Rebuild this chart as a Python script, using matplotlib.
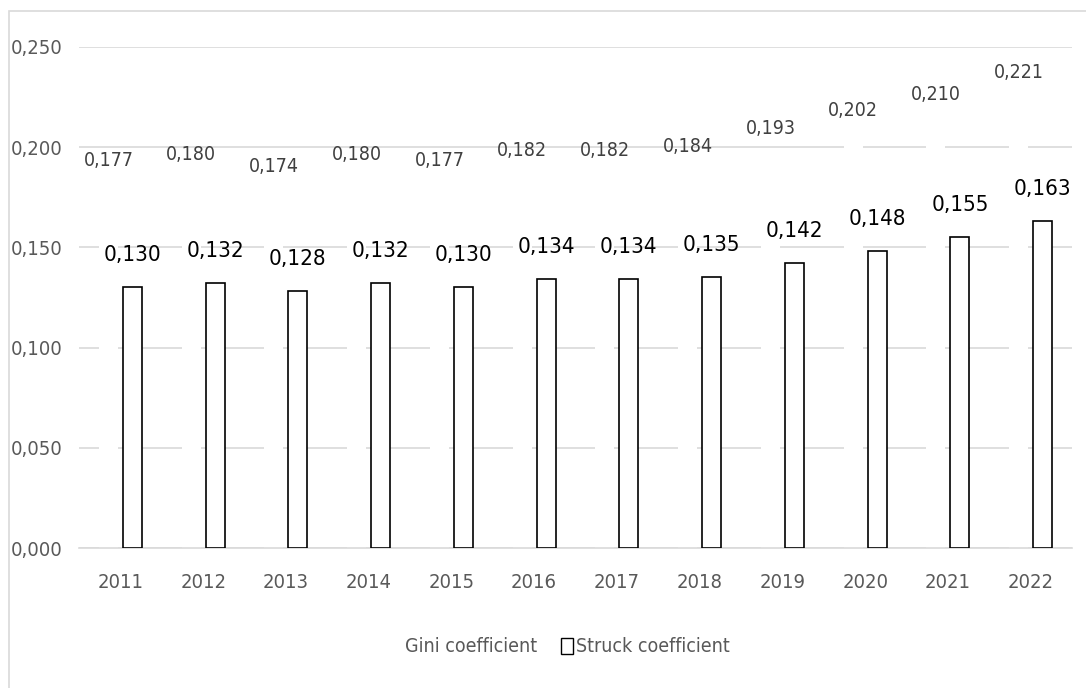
import matplotlib.pyplot as plt
from matplotlib.patches import Patch, Rectangle

years = ["2011", "2012", "2013", "2014", "2015", "2016",
         "2017", "2018", "2019", "2020", "2021", "2022"]
gini = [0.177, 0.180, 0.174, 0.180, 0.177, 0.182,
        0.182, 0.184, 0.193, 0.202, 0.210, 0.221]
struck = [0.130, 0.132, 0.128, 0.132, 0.130, 0.134,
          0.134, 0.135, 0.142, 0.148, 0.155, 0.163]
yticks = [0.0, 0.05, 0.10, 0.15, 0.20, 0.25]

plt.rcParams["font.family"] = ["DejaVu Sans"]
plt.rcParams["font.stretch"] = "condensed"

fig = plt.figure(figsize=(10.86, 6.88), dpi=100)
ax = fig.add_axes([79 / 1086, 1 - 548 / 688, 993 / 1086, 501 / 688])

# thin frame around the chart area
fig.patches.append(Rectangle((9 / 1086, -0.1), 1.2, 1 - 11 / 688 + 0.1,
                             transform=fig.transFigure, fill=False,
                             edgecolor="#d9d9d9", linewidth=1.2))

x = list(range(len(years)))
w = 0.23
off = 0.145
xg = [i - off for i in x]
xs = [i + off for i in x]

# Gini bars are white without outline, only their labels show
ax.bar(xg, gini, width=w, color="white", edgecolor="none", zorder=2)
ax.bar(xs, struck, width=w, color="white", edgecolor="black", linewidth=1.2, zorder=3)

for xi, v in zip(xg, gini):
    ax.annotate(f"{v:.3f}".replace(".", ","), (xi, v), xytext=(0, 23.5),
                textcoords="offset points", ha="center", va="center",
                fontsize=14, color="#404040")
for xi, v in zip(xs, struck):
    ax.annotate(f"{v:.3f}".replace(".", ","), (xi, v), xytext=(0, 23.5),
                textcoords="offset points", ha="center", va="center",
                fontsize=16, color="black")

ax.set_xlim(-0.5, len(years) - 0.5)
ax.set_ylim(0, 0.25)
ax.set_yticks(yticks)
ax.set_yticklabels([f"{t:.3f}".replace(".", ",") for t in yticks])
ax.set_xticks(x)
ax.set_xticklabels(years)
ax.tick_params(axis="both", length=0, labelsize=14.5, labelcolor="#595959")
ax.tick_params(axis="y", pad=12)
ax.tick_params(axis="x", pad=18)
ax.yaxis.grid(True, color="#d9d9d9", linewidth=1.2, zorder=0)
ax.set_axisbelow(True)
for s in ["top", "right", "left"]:
    ax.spines[s].set_visible(False)
ax.spines["bottom"].set_color("#d9d9d9")
ax.spines["bottom"].set_linewidth(1.2)

handles = [Patch(facecolor="white", edgecolor="none", label="Gini coefficient"),
           Patch(facecolor="white", edgecolor="black", linewidth=1, label="Struck coefficient")]
leg = fig.legend(handles=handles, loc="center", bbox_to_anchor=(560 / 1086, 1 - 647 / 688),
                 ncol=2, frameon=False, fontsize=14, handlelength=0.65, handleheight=0.9,
                 handletextpad=0.15, columnspacing=1.2)
for t in leg.get_texts():
    t.set_color("#595959")

fig.savefig("out.png", dpi=100, facecolor="white")
